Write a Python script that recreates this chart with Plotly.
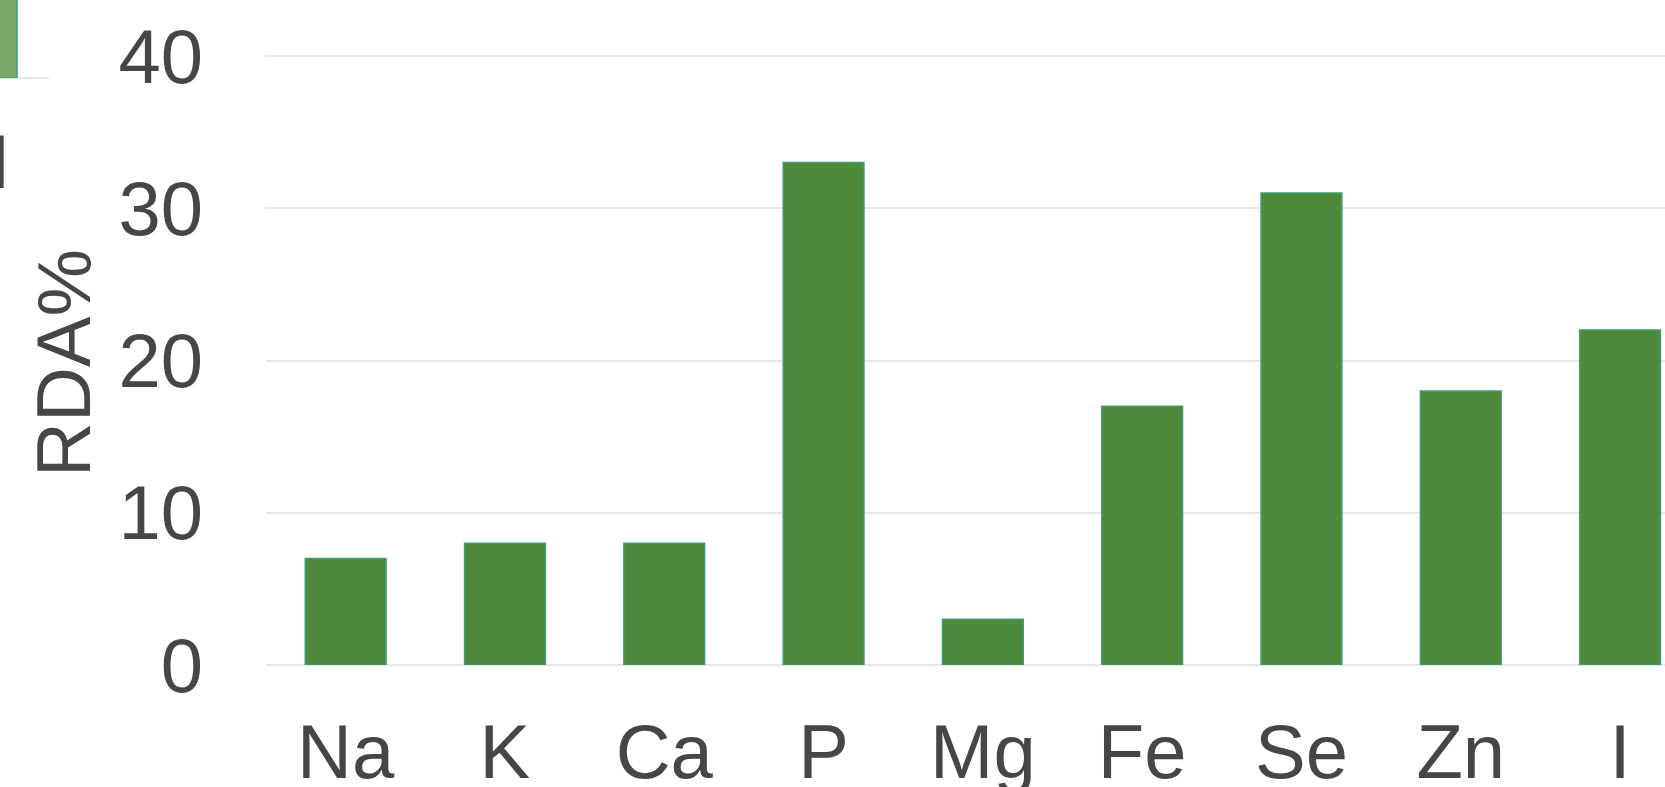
import plotly.graph_objects as go

# Mineral contribution to the recommended daily allowance
minerals = ["Na", "K", "Ca", "P", "Mg", "Fe", "Se", "Zn", "I"]
rda_pct = [7, 8, 8, 33, 3, 17, 31, 18, 22]

# neighbouring panel (only its last column shows at the edge)
side_minerals = ["I"]
side_rda_pct = [9]

y_ticks = [0, 10, 20, 30, 40]

W, H = 1665, 787
BOTTOM = 122
FONT = "Liberation Sans, Arial, sans-serif"
INK = "#464646"
GRID = "#e6e6e6"

fig = go.Figure()

fig.add_trace(go.Bar(
    x=minerals, y=rda_pct,
    marker=dict(color="#4e893c", line=dict(color="#3d9f70", width=1.5)),
    xaxis="x", yaxis="y", showlegend=False,
))

fig.add_trace(go.Bar(
    x=side_minerals, y=side_rda_pct, width=1.0,
    marker=dict(color="#78a96b", line=dict(color="#3d9f70", width=1.5)),
    xaxis="x2", yaxis="y2", showlegend=False,
))

fig.update_layout(
    width=W, height=H,
    margin=dict(l=0, r=0, t=0, b=BOTTOM, pad=0),
    paper_bgcolor="white", plot_bgcolor="white",
    font=dict(family=FONT, color=INK, size=76),
    bargap=0.493,
    xaxis=dict(
        domain=[266 / W, 1.0], range=[-0.5, 8.282],
        type="category", showgrid=False, zeroline=False, showline=False,
        ticks="", ticklabelstandoff=36, automargin=False,
        tickfont=dict(size=76, color=INK, family=FONT),
    ),
    yaxis=dict(
        domain=[0, 1], range=[0, 43.68],
        tickvals=y_ticks, showgrid=True, gridcolor=GRID, gridwidth=2,
        zeroline=True, zerolinecolor=GRID, zerolinewidth=2, showline=False,
        ticks="", ticklabelstandoff=62, automargin=False,
        tickfont=dict(size=76, color=INK, family=FONT),
    ),
    xaxis2=dict(
        domain=[0, 49 / W], range=[0, 1.441], anchor="y2",
        type="category", showgrid=False, zeroline=False, showline=False,
        ticks="", ticklabelstandoff=33, automargin=False,
        tickfont=dict(size=76, color=INK, family=FONT),
    ),
    yaxis2=dict(
        domain=[(H - BOTTOM - 78) / (H - BOTTOM), 1], range=[0, 5.9], anchor="x2",
        showgrid=False, zeroline=True, zerolinecolor=GRID, zerolinewidth=2,
        showline=False, showticklabels=False, automargin=False,
    ),
    annotations=[dict(
        text="RDA%", textangle=-90, showarrow=False,
        xref="paper", yref="paper",
        x=63 / W, y=(H - BOTTOM - 363) / (H - BOTTOM),
        xanchor="center", yanchor="middle",
        font=dict(size=76, color=INK, family=FONT),
    )],
)

fig.write_html("out.html")
